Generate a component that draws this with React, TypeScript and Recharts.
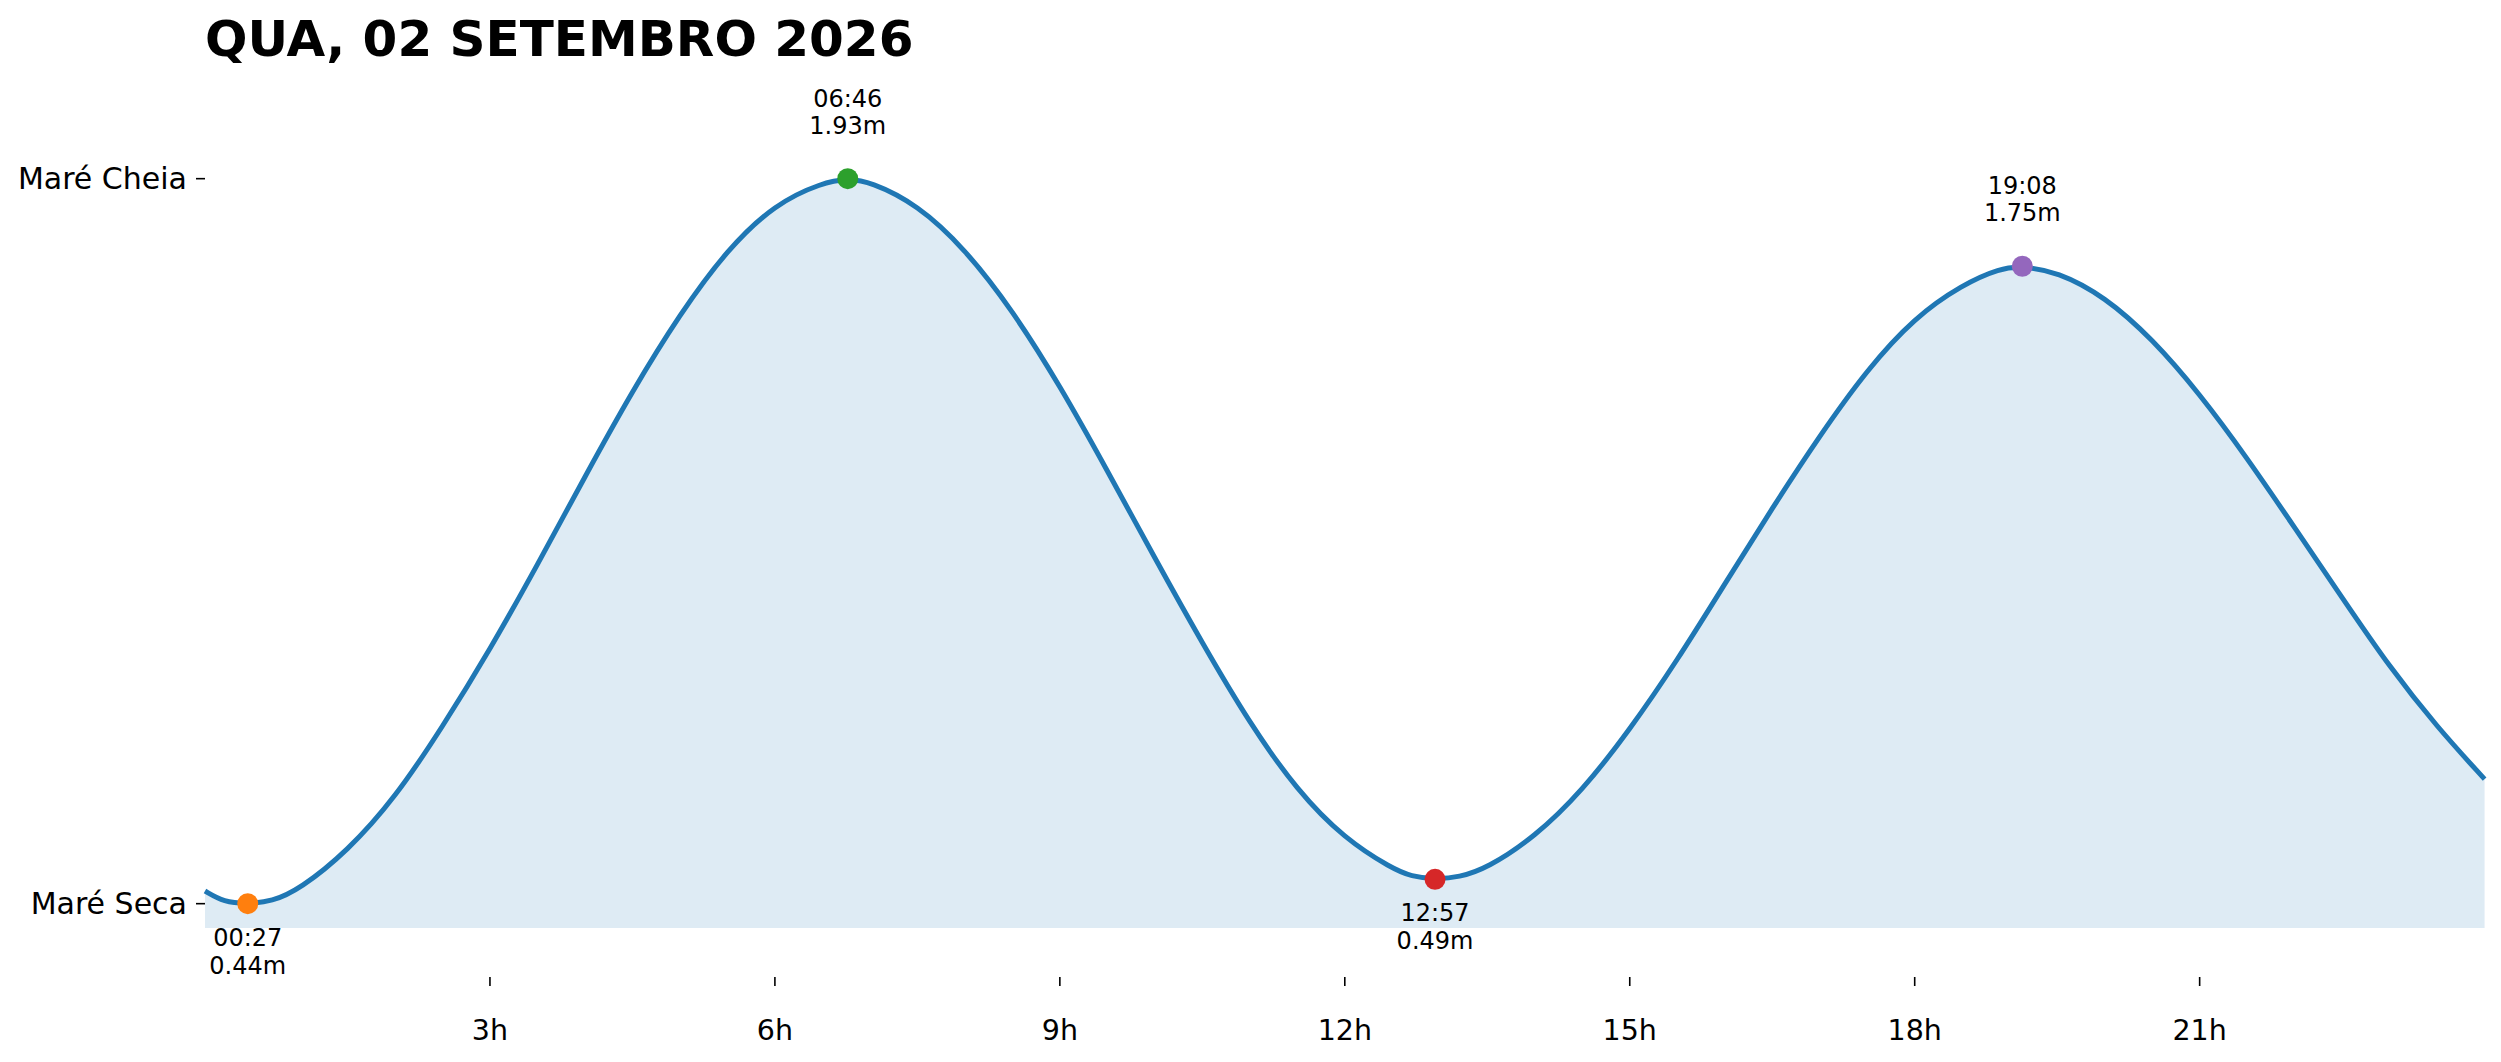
import React from 'react'
import { ComposedChart, Area, Scatter, Cell, XAxis, YAxis } from 'recharts'

// curve heights (hour of day, metres)
const hours = [
  0, 0.2, 0.45, 0.7, 1, 1.5, 2, 2.5, 3, 3.5, 4, 4.5, 5, 5.5, 6, 6.5, 6.767, 7, 7.5, 8, 8.5, 9, 9.5, 10, 10.5, 11,
  11.5, 12, 12.5, 12.7, 12.95, 13.2, 13.5, 14, 14.5, 15, 15.5, 16, 16.5, 17, 17.5, 18, 18.5, 18.9, 19.133, 19.5, 20,
  20.5, 21, 21.5, 22, 22.5, 23, 23.5, 24,
]
const heights = [
  0.466, 0.443, 0.44, 0.444, 0.47, 0.548, 0.657, 0.803, 0.962, 1.136, 1.318, 1.494, 1.652, 1.785, 1.878, 1.922, 1.93,
  1.924, 1.877, 1.786, 1.66, 1.505, 1.33, 1.15, 0.975, 0.81, 0.672, 0.573, 0.512, 0.496, 0.49, 0.494, 0.513, 0.577,
  0.672, 0.797, 0.94, 1.097, 1.253, 1.402, 1.538, 1.645, 1.712, 1.746, 1.75, 1.739, 1.688, 1.601, 1.488, 1.356, 1.213,
  1.069, 0.926, 0.803, 0.696,
]

// high / low water marks
const extremeHours = [0.45, 6.767, 12.95, 19.133]
const extremeHeights = [0.44, 1.93, 0.49, 1.75]
const extremeTimes = ['00:27', '06:46', '12:57', '19:08']
const extremeKinds = ['low', 'high', 'low', 'high']
const dotColors = ['#ff7f0e', '#2ca02c', '#d62728', '#9467bd']

const xTicks = [3, 6, 9, 12, 15, 18, 21]
const yTicks = [0.44, 1.93]
const yTickLabels: Record<number, string> = { 0.44: 'Maré Seca', 1.93: 'Maré Cheia' }

const title = 'QUA, 02 SETEMBRO 2026'

const FONT = '"DejaVu Sans", sans-serif'

const curve = hours.map((h, i) => ({ h, v: heights[i] }))
const extremes = extremeHours.map((h, i) => ({
  h,
  v: extremeHeights[i],
  time: extremeTimes[i],
  kind: extremeKinds[i],
}))

const XTick = (props: any) => {
  const { x, y, payload } = props
  return (
    <g>
      <line x1={x} x2={x} y1={y + 49} y2={y + 58} stroke="#000" strokeWidth={1.6} />
      <text x={x} y={y + 112} textAnchor="middle" fontSize={28.5} fontFamily={FONT} fill="#000">
        {payload.value}h
      </text>
    </g>
  )
}

const ExtremeDot = (props: any) => {
  const { cx, cy, payload, fill } = props
  const high = payload.kind === 'high'
  const d1 = high ? -72 : 42
  const d2 = high ? -45 : 70
  return (
    <g>
      <circle cx={cx} cy={cy} r={10.5} fill={fill} />
      <text x={cx} y={cy + d1} textAnchor="middle" fontSize={24} fontFamily={FONT} fill="#000">
        {payload.time}
      </text>
      <text x={cx} y={cy + d2} textAnchor="middle" fontSize={24} fontFamily={FONT} fill="#000">
        {payload.v.toFixed(2)}m
      </text>
    </g>
  )
}

export default function App() {
  return (
    <div style={{ position: 'absolute', left: 0, top: 0, width: 2501, height: 1062, background: '#fff' }}>
      <div
        style={{
          position: 'absolute',
          left: 205,
          top: 14,
          fontFamily: FONT,
          fontWeight: 'bold',
          fontSize: 50,
          lineHeight: 1,
          color: '#000',
          whiteSpace: 'nowrap',
        }}
      >
        {title}
      </div>
      <ComposedChart
        width={2501}
        height={1062}
        data={curve}
        margin={{ top: 47.3, right: 16.4, left: 0, bottom: 0 }}
        style={{ overflow: 'visible' }}
      >
        <XAxis
          dataKey="h"
          type="number"
          domain={[0, 24]}
          ticks={xTicks}
          interval={0}
          axisLine={false}
          tickLine={false}
          tickSize={0}
          tickMargin={0}
          height={134}
          tick={<XTick />}
        />
        <YAxis
          type="number"
          domain={[0.39, 2.2]}
          ticks={yTicks}
          interval={0}
          width={205}
          axisLine={false}
          tickSize={9}
          tickMargin={9}
          tickLine={{ stroke: '#000', strokeWidth: 1.6 }}
          tick={{ fill: '#000', fontSize: 30, fontFamily: FONT }}
          tickFormatter={(v: number) => yTickLabels[v] ?? ''}
        />
        <Area
          type="basis"
          dataKey="v"
          stroke="#1f77b4"
          strokeWidth={5}
          fill="#1f77b4"
          fillOpacity={0.15}
          dot={false}
          activeDot={false}
          isAnimationActive={false}
        />
        <Scatter data={extremes} dataKey="v" shape={<ExtremeDot />} isAnimationActive={false}>
          {extremes.map((_, i) => (
            <Cell key={i} fill={dotColors[i]} />
          ))}
        </Scatter>
      </ComposedChart>
    </div>
  )
}
